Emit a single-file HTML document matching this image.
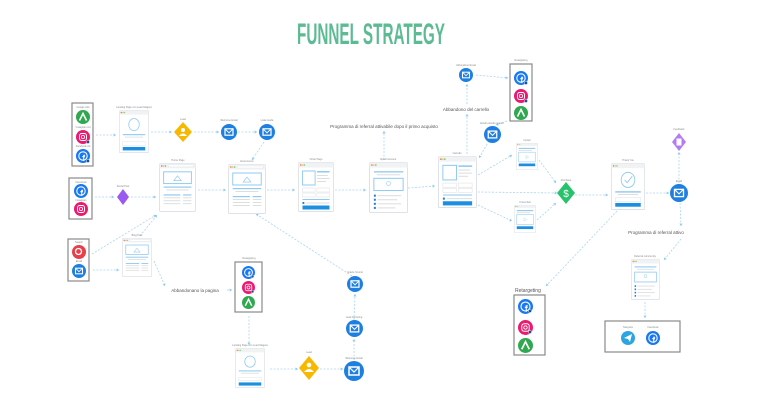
<!DOCTYPE html>
<html><head><meta charset="utf-8">
<style>
html,body{margin:0;padding:0;background:#fff;width:768px;height:405px;overflow:hidden}
svg{display:block}
.t{font-family:"Liberation Sans",sans-serif;fill:#555;font-size:4.5px}
.tt{font-family:"Liberation Sans",sans-serif;fill:#888;font-size:2.5px}
.c{fill:none;stroke:#a9d6f3;stroke-width:0.8;stroke-dasharray:2 1.5}
.bx{fill:#fff;stroke:#8a8a8a;stroke-width:1.2}
</style></head><body>
<svg width="768" height="405" viewBox="0 0 768 405" xmlns="http://www.w3.org/2000/svg">
<defs>
<marker id="a" markerWidth="4" markerHeight="4" refX="3" refY="2" orient="auto"><path d="M0,0 L3,2 L0,4 z" fill="#8fcaf0"/></marker>
<symbol id="pg" viewBox="0 0 40 50" preserveAspectRatio="none">
<rect x="0.5" y="0.5" width="39" height="49" rx="1" fill="#fff" stroke="#dde2e8"/>
<rect x="0.5" y="0.5" width="39" height="5" fill="#f0f2f4"/>
<circle cx="3" cy="3" r="0.8" fill="#e86a5a"/><circle cx="5" cy="3" r="0.8" fill="#f2c34a"/><circle cx="7" cy="3" r="0.8" fill="#6cc76a"/>
<rect x="10" y="2" width="27" height="2" fill="#fff" stroke="#ddd" stroke-width="0.3"/>
<rect x="5" y="9" width="30" height="12" fill="#fff" stroke="#8fcaf0" stroke-width="1"/>
<path d="M16 18 l4 -5 l4 5 z" fill="none" stroke="#8fcaf0" stroke-width="0.7"/>
<rect x="5" y="24" width="30" height="1.2" fill="#8fcaf0"/>
<rect x="8" y="27" width="24" height="1" fill="#ddd"/>
<rect x="5" y="32" width="18" height="1.2" fill="#8fcaf0"/><rect x="26" y="32" width="9" height="1.2" fill="#8fcaf0"/>
<rect x="5" y="35" width="18" height="1" fill="#ddd"/><rect x="26" y="35" width="9" height="1" fill="#ddd"/>
<rect x="5" y="38" width="18" height="1" fill="#ddd"/><rect x="26" y="38" width="9" height="1" fill="#ddd"/>
<rect x="5" y="41" width="18" height="1" fill="#ddd"/><rect x="26" y="41" width="9" height="1" fill="#ddd"/>
</symbol>
<symbol id="op" viewBox="0 0 40 50" preserveAspectRatio="none">
<rect x="0.5" y="0.5" width="39" height="49" rx="1" fill="#fff" stroke="#dde2e8"/>
<rect x="0.5" y="0.5" width="39" height="5" fill="#f0f2f4"/>
<circle cx="3" cy="3" r="0.8" fill="#e86a5a"/><circle cx="5" cy="3" r="0.8" fill="#f2c34a"/><circle cx="7" cy="3" r="0.8" fill="#6cc76a"/>
<rect x="5" y="9" width="14" height="14" fill="#fff" stroke="#8fcaf0"/>
<rect x="21" y="9" width="14" height="1.5" fill="#8fcaf0"/><rect x="21" y="13" width="12" height="1" fill="#ddd"/><rect x="21" y="16" width="14" height="1" fill="#ddd"/><rect x="21" y="19" width="10" height="1" fill="#ddd"/>
<rect x="5" y="26" width="14" height="4" fill="#fff" stroke="#ddd" stroke-width="0.5"/><rect x="21" y="26" width="14" height="4" fill="#fff" stroke="#ddd" stroke-width="0.5"/>
<rect x="5" y="31" width="14" height="4" fill="#fff" stroke="#ddd" stroke-width="0.5"/><rect x="21" y="31" width="14" height="4" fill="#fff" stroke="#ddd" stroke-width="0.5"/>
<rect x="5" y="37" width="30" height="1" fill="#8fcaf0"/>
<rect x="5" y="40" width="2" height="2" fill="#1f7bd8"/><rect x="9" y="40.5" width="26" height="1" fill="#ddd"/>
<rect x="5" y="43.5" width="30" height="4" fill="#1d8fe0"/>
</symbol>
<symbol id="up" viewBox="0 0 40 50" preserveAspectRatio="none">
<rect x="0.5" y="0.5" width="39" height="49" rx="1" fill="#fff" stroke="#dde2e8"/>
<rect x="0.5" y="0.5" width="39" height="5" fill="#f0f2f4"/>
<circle cx="3" cy="3" r="0.8" fill="#e86a5a"/><circle cx="5" cy="3" r="0.8" fill="#f2c34a"/><circle cx="7" cy="3" r="0.8" fill="#6cc76a"/>
<rect x="5" y="9" width="30" height="1.3" fill="#8fcaf0"/><rect x="8" y="12" width="24" height="1" fill="#ddd"/>
<rect x="5" y="16" width="30" height="12" fill="#fff" stroke="#8fcaf0"/>
<circle cx="20" cy="21" r="2" fill="none" stroke="#8fcaf0" stroke-width="0.6"/>
<rect x="5" y="32" width="2" height="2" fill="#1f7bd8"/><rect x="9" y="32.5" width="24" height="1" fill="#ddd"/>
<rect x="5" y="36" width="2" height="2" fill="#1f7bd8"/><rect x="9" y="36.5" width="20" height="1" fill="#ddd"/>
<rect x="5" y="40" width="2" height="2" fill="#1f7bd8"/><rect x="9" y="40.5" width="24" height="1" fill="#ddd"/>
<rect x="5" y="44" width="2" height="2" fill="#1f7bd8"/><rect x="9" y="44.5" width="18" height="1" fill="#ddd"/>
</symbol>
<symbol id="lp" viewBox="0 0 40 50" preserveAspectRatio="none">
<rect x="0.5" y="0.5" width="39" height="49" rx="1" fill="#fff" stroke="#dde2e8"/>
<rect x="0.5" y="0.5" width="39" height="5" fill="#f0f2f4"/>
<circle cx="3" cy="3" r="0.8" fill="#e86a5a"/><circle cx="5" cy="3" r="0.8" fill="#f2c34a"/><circle cx="7" cy="3" r="0.8" fill="#6cc76a"/>
<circle cx="20" cy="17" r="7" fill="none" stroke="#8fcaf0"/>
<rect x="5" y="28" width="30" height="1.3" fill="#8fcaf0"/><rect x="8" y="31" width="24" height="1" fill="#ddd"/>
<rect x="5" y="37" width="30" height="4" fill="#fff" stroke="#ddd" stroke-width="0.5"/>
<rect x="5" y="43" width="30" height="4" fill="#1d8fe0"/>
</symbol>
<symbol id="vp" viewBox="0 0 40 50" preserveAspectRatio="none">
<rect x="0.5" y="0.5" width="39" height="49" rx="1" fill="#fff" stroke="#dde2e8"/>
<rect x="0.5" y="0.5" width="39" height="5" fill="#f0f2f4"/>
<circle cx="3" cy="3" r="0.8" fill="#e86a5a"/><circle cx="5" cy="3" r="0.8" fill="#f2c34a"/><circle cx="7" cy="3" r="0.8" fill="#6cc76a"/>
<rect x="5" y="9" width="30" height="2" fill="#8fcaf0"/><rect x="5" y="13" width="24" height="1.5" fill="#ddd"/>
<rect x="5" y="17" width="30" height="18" fill="#fff" stroke="#8fcaf0"/>
<path d="M18 23 l5 3 l-5 3 z" fill="none" stroke="#8fcaf0" stroke-width="0.6"/>
<rect x="5" y="38" width="30" height="5" fill="#1d8fe0"/>
</symbol>
<symbol id="ty" viewBox="0 0 40 50" preserveAspectRatio="none">
<rect x="0.5" y="0.5" width="39" height="49" rx="1" fill="#fff" stroke="#dde2e8"/>
<rect x="0.5" y="0.5" width="39" height="5" fill="#f0f2f4"/>
<circle cx="3" cy="3" r="0.8" fill="#e86a5a"/><circle cx="5" cy="3" r="0.8" fill="#f2c34a"/><circle cx="7" cy="3" r="0.8" fill="#6cc76a"/>
<circle cx="20" cy="18" r="8" fill="none" stroke="#8fcaf0"/>
<path d="M16 18 l3 3 l6 -7" fill="none" stroke="#8fcaf0"/>
<rect x="5" y="30" width="30" height="1.5" fill="#8fcaf0"/><rect x="8" y="33" width="24" height="1" fill="#ddd"/>
<rect x="5" y="37" width="30" height="4" fill="#fff" stroke="#ddd" stroke-width="0.5"/>
<rect x="5" y="42.5" width="30" height="4" fill="#1d8fe0"/>
</symbol>
<symbol id="ml" viewBox="-10 -10 20 20"><circle r="10" fill="#1f7fe0"/><rect x="-5" y="-4" width="10" height="8" fill="none" stroke="#fff" stroke-width="1.5"/><path d="M-5 -4 L0 1 L5 -4" fill="none" stroke="#fff" stroke-width="1.2"/></symbol>
<symbol id="fb" viewBox="-10 -10 20 20"><circle r="10" fill="#1877f2"/><circle r="6" fill="none" stroke="#fff" stroke-width="1.5"/><path d="M1 7 V-1 h2 M-1 1 h4" stroke="#fff" stroke-width="1.5" fill="none"/></symbol>
<symbol id="ig" viewBox="-10 -10 20 20"><circle r="10" fill="#ea1b6e"/><rect x="-5" y="-5" width="10" height="10" rx="3" fill="none" stroke="#fff" stroke-width="1.3"/><circle r="2.3" fill="none" stroke="#fff" stroke-width="1.2"/></symbol>
<symbol id="gg" viewBox="-10 -10 20 20"><circle r="10" fill="#2fa84f"/><path d="M-5 5 L0 -5 L5 5" fill="none" stroke="#fff" stroke-width="2.2"/></symbol>
<symbol id="bd" viewBox="-10 -10 20 20"><circle cx="0" cy="0" r="4" fill="#1a4f99" stroke="#fff"/></symbol>
</defs>

<text x="297" y="44" font-family="Liberation Sans, sans-serif" font-weight="bold" font-size="30" fill="#5dbb94" textLength="148" lengthAdjust="spacingAndGlyphs">FUNNEL STRATEGY</text>

<!-- connectors -->
<g class="c" marker-end="url(#a)">
<path d="M96 135 L116 135"/><path d="M151 132 L172 132"/><path d="M194 132 L219 132"/><path d="M238 132 L257 132"/>
<path d="M264 142 L252 160"/>
<path d="M95 197 L114 197"/><path d="M131 197 L156 197"/>
<path d="M92 254 L156 215"/><path d="M140 236 L157 215"/><path d="M93 270 L119 270"/>
<path d="M154 261 L165 286"/><path d="M227 290 L232 290"/>
<path d="M198 190 L226 190"/><path d="M267 190 L295 190"/><path d="M335 190 L366 190"/><path d="M408 188 L435 186"/>
<path d="M384 160 L384 131"/>
<path d="M467 154 L467 114"/><path d="M467 104 L467 84"/><path d="M476 75 L508 78"/>
<path d="M507 121 L496 125"/><path d="M489 141 L479 158"/>
<path d="M478 175 L512 155"/><path d="M478 192 L557 193"/><path d="M478 205 L512 221"/>
<path d="M539 160 L556 183"/><path d="M537 220 L556 203"/>
<path d="M575 195 L608 195"/><path d="M646 193 L669 193"/>
<path d="M679 183 L679 152"/><path d="M680 203 L681 226"/><path d="M681 239 L664 260"/>
<path d="M617 211 L546 286"/>
<path d="M645 302 L645 318"/>
<path d="M249 316 L249 345"/>
<path d="M270 369 L298 369"/><path d="M320 369 L343 369"/><path d="M354 360 L354 339"/><path d="M354 320 L355 294"/>
<path d="M352 276 L256 214"/>
</g>

<!-- source boxes -->
<rect class="bx" x="72" y="103" width="21" height="63"/>
<text class="tt" x="83" y="108" text-anchor="middle">Google Ads</text>
<use href="#gg" x="76" y="110" width="14" height="14"/>
<text class="tt" x="83" y="128" text-anchor="middle">Instagram Ad</text>
<use href="#ig" x="76" y="130" width="14" height="14"/><use href="#bd" x="84" y="138" width="8" height="8"/>
<text class="tt" x="83" y="147" text-anchor="middle">Facebook Ad</text>
<use href="#fb" x="76" y="149" width="14" height="14"/><use href="#bd" x="84" y="157" width="8" height="8"/>

<rect class="bx" x="69" y="178" width="23" height="41"/>
<text class="tt" x="81" y="183" text-anchor="middle">Facebook</text>
<use href="#fb" x="74" y="184" width="14" height="14"/>
<text class="tt" x="81" y="201" text-anchor="middle">Instagram</text>
<use href="#ig" x="74" y="202" width="14" height="14"/>

<rect class="bx" x="68" y="239" width="21" height="42"/>
<text class="tt" x="79" y="243" text-anchor="middle">Search</text>
<circle cx="79" cy="252" r="7" fill="#e8404a"/><circle cx="78.5" cy="251.5" r="3" fill="none" stroke="#fff" stroke-width="1.3"/>
<text class="tt" x="79" y="262" text-anchor="middle">Email</text>
<use href="#ml" x="72" y="264" width="14" height="14"/>

<!-- pages -->
<text class="tt" x="134" y="108" text-anchor="middle">Landing Page con Lead Magnet</text>
<use href="#lp" x="119" y="110" width="30" height="43"/>
<text class="tt" x="178" y="161" text-anchor="middle">Home Page</text>
<use href="#pg" x="159" y="163" width="37" height="49"/>
<text class="tt" x="247" y="162" text-anchor="middle">Ecommerce</text>
<use href="#pg" x="228" y="164" width="38" height="50"/>
<text class="tt" x="316" y="160" text-anchor="middle">Order Page</text>
<use href="#op" x="298" y="162" width="36" height="50"/>
<text class="tt" x="388" y="160" text-anchor="middle">Upsell Account</text>
<use href="#up" x="369" y="162" width="39" height="51"/>
<text class="tt" x="457" y="154" text-anchor="middle">Carrello</text>
<use href="#op" x="438" y="156" width="39" height="52"/>
<text class="tt" x="137" y="236" text-anchor="middle">Blog Post</text>
<use href="#pg" x="122" y="238" width="30" height="39"/>
<text class="tt" x="527" y="141" text-anchor="middle">Upsell</text>
<use href="#vp" x="516" y="143" width="22" height="27"/>
<text class="tt" x="525" y="203" text-anchor="middle">Cross Sell</text>
<use href="#vp" x="514" y="205" width="22" height="28"/>
<text class="tt" x="628" y="161" text-anchor="middle">Thank You</text>
<use href="#ty" x="611" y="163" width="34" height="47"/>
<text class="tt" x="645" y="257" text-anchor="middle">Referral community</text>
<use href="#up" x="631" y="259" width="29" height="41"/>
<text class="tt" x="250" y="346" text-anchor="middle">Landing Page con Lead Magnet</text>
<use href="#lp" x="235" y="348" width="30" height="40"/>

<!-- diamonds -->
<text class="tt" x="183" y="120" text-anchor="middle">Lead</text>
<path d="M183 122 L192 132 L183 142 L174 132 z" fill="#f9b800"/><circle cx="183" cy="130" r="2" fill="#fff"/><path d="M179 136 q4 -5 8 0 z" fill="#fff"/>
<text class="tt" x="123" y="187" text-anchor="middle">Social Post</text>
<path d="M123 189 L129 197 L123 205 L117 197 z" fill="#9b59f0"/>
<text class="tt" x="309" y="353" text-anchor="middle">Lead</text>
<path d="M309 356 L319 368 L309 380 L299 368 z" fill="#f9b800"/><circle cx="309" cy="365" r="2.3" fill="#fff"/><path d="M304 372 q5 -6 10 0 z" fill="#fff"/>
<text class="tt" x="566" y="181" text-anchor="middle">Purchase</text>
<path d="M566 182 L575 193 L566 204 L557 193 z" fill="#27c26c"/>
<text x="566" y="197" text-anchor="middle" font-family="Liberation Sans, sans-serif" font-size="10" fill="#fff">$</text>
<text class="tt" x="679" y="130" text-anchor="middle">Feedback</text>
<path d="M679 133 L686 142 L679 151 L672 142 z" fill="#b57bf2"/><rect x="676.5" y="138.5" width="5" height="7" fill="#fff"/>

<!-- emails -->
<text class="tt" x="229" y="121" text-anchor="middle">Welcome Email</text>
<use href="#ml" x="221" y="124" width="16" height="16"/>
<text class="tt" x="267" y="121" text-anchor="middle">Lista Guida</text>
<use href="#ml" x="259" y="124" width="16" height="16"/>
<text class="tt" x="466" y="66" text-anchor="middle">Abbandono Email</text>
<use href="#ml" x="459" y="68" width="14" height="14"/>
<text class="tt" x="492" y="124" text-anchor="middle">Email carrello sconto</text>
<use href="#ml" x="484" y="126" width="17" height="17"/>
<text class="tt" x="679" y="182" text-anchor="middle">Email</text>
<use href="#ml" x="670" y="184" width="18" height="18"/>
<text class="tt" x="355" y="273" text-anchor="middle">Grazie Sconto</text>
<use href="#ml" x="347" y="276" width="16" height="16"/>
<text class="tt" x="354" y="318" text-anchor="middle">Lead Nurturing</text>
<use href="#ml" x="346" y="320" width="17" height="17"/>
<text class="tt" x="354" y="359" text-anchor="middle">Welcome Email</text>
<use href="#ml" x="344" y="361" width="20" height="20"/>

<!-- retargeting boxes -->
<text class="tt" x="521" y="61" text-anchor="middle" font-size="3">Retargeting</text>
<rect class="bx" x="510" y="64" width="22" height="57"/>
<use href="#fb" x="514" y="71" width="14" height="14"/><use href="#bd" x="522" y="79" width="8" height="8"/>
<use href="#ig" x="514" y="89" width="14" height="14"/><use href="#bd" x="522" y="97" width="8" height="8"/>
<use href="#gg" x="514" y="106" width="14" height="14"/>

<text class="tt" x="249" y="259" text-anchor="middle" font-size="3">Retargeting</text>
<rect class="bx" x="235" y="262" width="27" height="50"/>
<use href="#fb" x="242" y="266" width="13" height="13"/><use href="#bd" x="249" y="273" width="7" height="7"/>
<use href="#ig" x="242" y="281" width="13" height="13"/><use href="#bd" x="249" y="288" width="7" height="7"/>
<use href="#gg" x="242" y="296" width="13" height="13"/>

<text x="515" y="292" font-family="Liberation Sans, sans-serif" font-size="5" fill="#555">Retargeting</text>
<rect class="bx" x="514" y="295" width="31" height="60"/>
<use href="#fb" x="518" y="299" width="15" height="15"/><use href="#bd" x="526" y="307" width="8" height="8"/>
<use href="#ig" x="518" y="320" width="15" height="15"/><use href="#bd" x="526" y="328" width="8" height="8"/>
<use href="#gg" x="518" y="338" width="15" height="15"/>

<rect class="bx" x="605" y="321" width="75" height="31"/>
<text class="tt" x="628" y="328" text-anchor="middle">Telegram</text>
<circle cx="628" cy="338" r="7" fill="#2ca5e0"/><path d="M624 338 L632 334 L630 342 L628 339 z" fill="#fff"/>
<text class="tt" x="653" y="328" text-anchor="middle">Facebook</text>
<use href="#fb" x="646" y="331" width="14" height="14"/>

<!-- labels -->
<text class="t" x="384" y="128" text-anchor="middle">Programma di referral attivabile dopo il primo acquisto</text>
<text class="t" x="466" y="111" text-anchor="middle">Abbandono del carrello</text>
<text class="t" x="195" y="292" text-anchor="middle">Abbandonano la pagina</text>
<text class="t" x="656" y="234" text-anchor="middle">Programma di referral attivo</text>
</svg>
</body></html>
